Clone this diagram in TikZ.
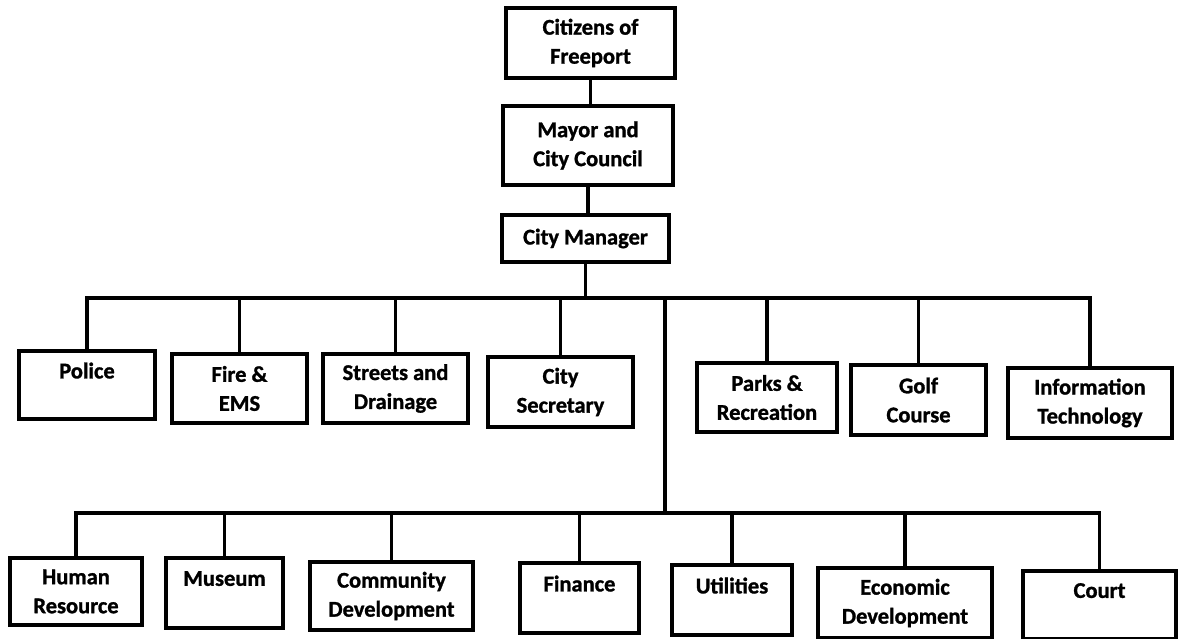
\documentclass[tikz,border=0pt]{standalone}
\usepackage{fontspec}
\setmainfont{Carlito}[BoldFeatures={FakeBold=1.2}]
\usepackage{tikz}

\begin{document}
\begin{tikzpicture}[
    x=1pt, y=-1pt,
    box/.style={draw, line width=3.4pt, align=center, inner sep=0pt, font=\bfseries\fontsize{22.5}{29}\selectfont},
    link/.style={line width=3.6pt}
]
    \useasboundingbox (0,0) rectangle (1182,639);

    % Top of the chain
    \node[box, minimum width=169pt, minimum height=70pt] (citizens) at (590.5,43) {Citizens of\\Freeport};
    \node[box, minimum width=170pt, minimum height=79pt] (mayor) at (588,145.5) {Mayor and\\City Council};
    \node[box, minimum width=167pt, minimum height=47pt] (manager) at (585.5,238.5) {City Manager};

    % First row of departments
    \node[box, minimum width=136pt, minimum height=68pt] (police) at (87,385) {Police\\~};
    \node[box, minimum width=135pt, minimum height=69pt] (fire) at (239.5,388.5) {Fire \&\\EMS};
    \node[box, minimum width=145pt, minimum height=69pt] (streets) at (395.5,388.5) {Streets and\\Drainage};
    \node[box, minimum width=145pt, minimum height=70pt] (secretary) at (560.5,392) {City\\Secretary};
    \node[box, minimum width=140pt, minimum height=69pt] (parks) at (767,397.5) {Parks \&\\Recreation};
    \node[box, minimum width=135pt, minimum height=70pt] (golf) at (918.5,400) {Golf\\Course};
    \node[box, minimum width=164pt, minimum height=70pt] (it) at (1090,403) {Information\\Technology};

    % Second row of departments
    \node[box, minimum width=132pt, minimum height=67pt] (hr) at (76,591.5) {Human\\Resource};
    \node[box, minimum width=117pt, minimum height=70pt] (museum) at (224.5,593) {Museum\\~};
    \node[box, minimum width=163pt, minimum height=68pt] (community) at (391.5,596) {Community\\Development};
    \node[box, minimum width=119pt, minimum height=70pt] (finance) at (579.5,598) {Finance\\~};
    \node[box, minimum width=120pt, minimum height=70pt] (utilities) at (732,600) {Utilities\\~};
    \node[box, minimum width=174pt, minimum height=70pt] (econ) at (905,603) {Economic\\Development};
    \node[box, minimum width=153pt, minimum height=68pt] (court) at (1099.5,605) {Court\\~};

    % Bus lines
    \coordinate (topbus) at (0,298);
    \coordinate (lowbus) at (0,513);
    \coordinate (trunk) at (665,298);

    % Connections
    \draw[link] (citizens.south) -- (citizens.south |- mayor.north);
    \draw[link] (mayor.south) -- (mayor.south |- manager.north);
    \draw[link] (manager.south) -- (manager.south |- topbus);

    \draw[link] (police.north) |- (it.north |- topbus) -- (it.north);
    \foreach \dept in {fire,streets,secretary,parks,golf}
        \draw[link] (\dept.north) -- (\dept.north |- topbus);

    \draw[link] (trunk) -- (trunk |- lowbus);

    \draw[link] (hr.north) |- (court.north |- lowbus) -- (court.north);
    \foreach \dept in {museum,community,finance,utilities,econ}
        \draw[link] (\dept.north) -- (\dept.north |- lowbus);
\end{tikzpicture}
\end{document}
